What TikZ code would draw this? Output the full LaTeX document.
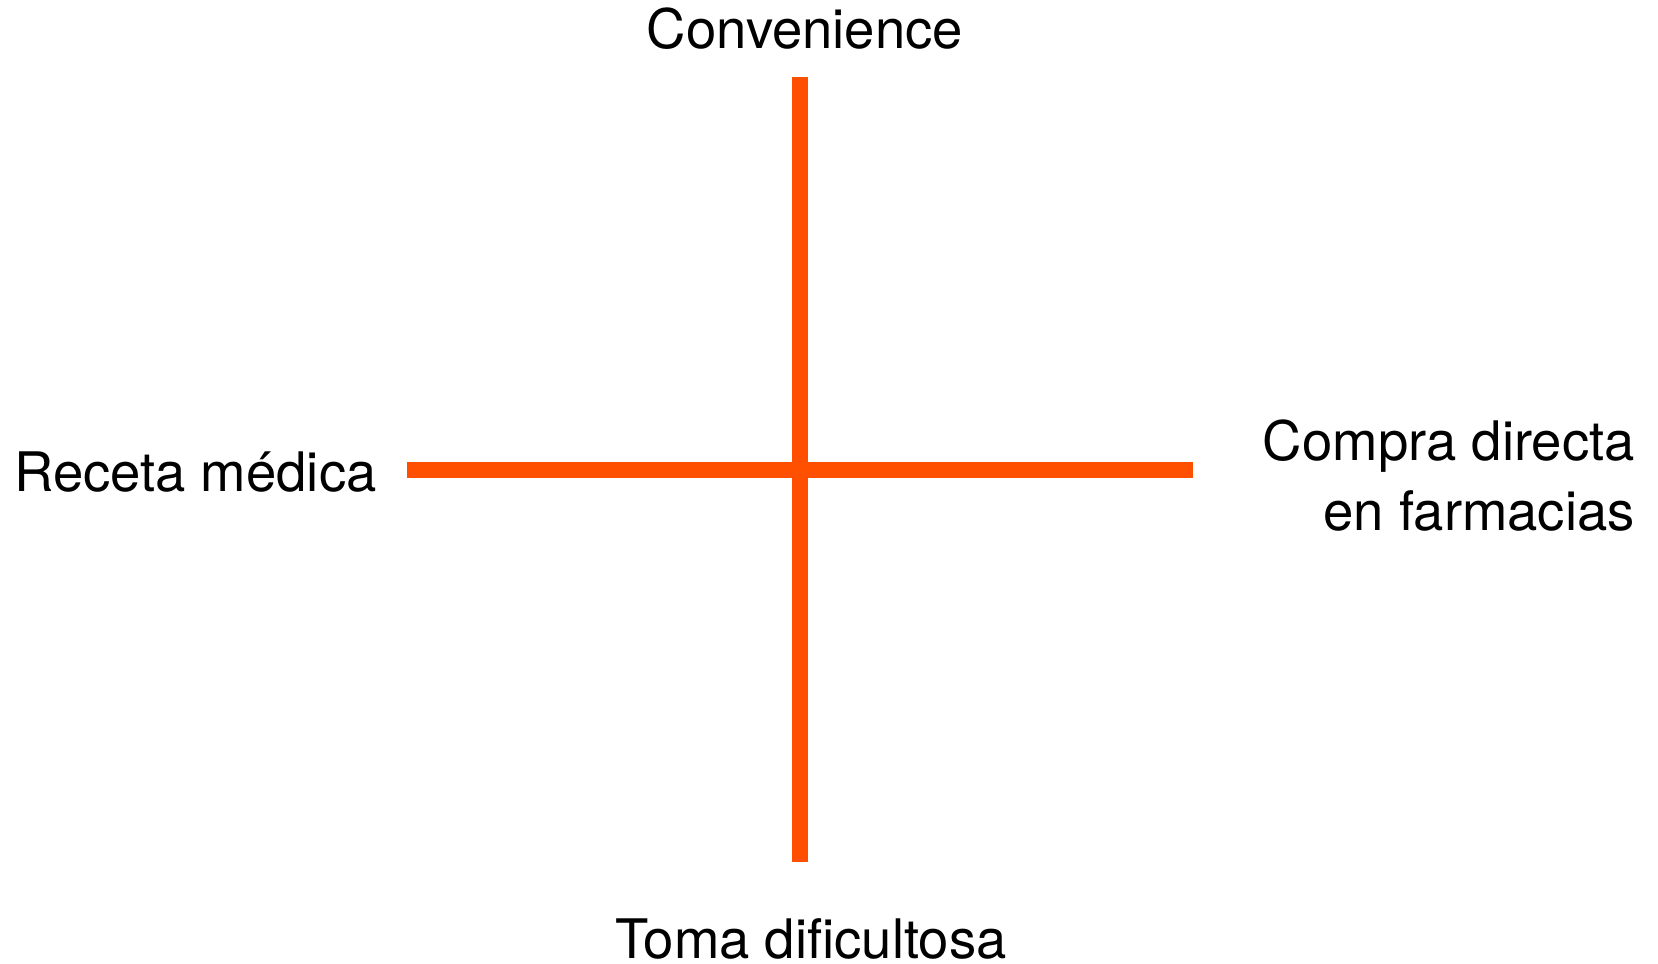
\documentclass[tikz,border=0pt]{standalone}
\usepackage{fontspec}
\setmainfont{TeX Gyre Heros}
\definecolor{axisorange}{RGB}{255,80,0}
\begin{document}
\begin{tikzpicture}[x=1pt,y=-1pt,
  axis/.style={line width=16pt, draw=axisorange},
  lbl/.style={inner sep=0pt, font=\fontsize{54.5}{70}\selectfont, text=black}]
\useasboundingbox[fill=white] (0,0) rectangle (1658,964);
\coordinate (top) at (800,76.7);
\coordinate (bottom) at (800,861.7);
\coordinate (left) at (407,469.5);
\coordinate (right) at (1193,469.5);
\draw[axis] (top) -- (bottom);
\draw[axis] (left) -- (right);
\node[lbl, anchor=base] (conv) at (805,48) {Convenience};
\node[lbl, anchor=base west] (receta) at (14,491) {Receta médica};
\node[lbl, anchor=base east, align=right] (compra) at (1635,530) {Compra directa\\en farmacias};
\node[lbl, anchor=base, text depth=0pt] (toma) at (811,958) {Toma dificultosa};
\end{tikzpicture}
\end{document}
